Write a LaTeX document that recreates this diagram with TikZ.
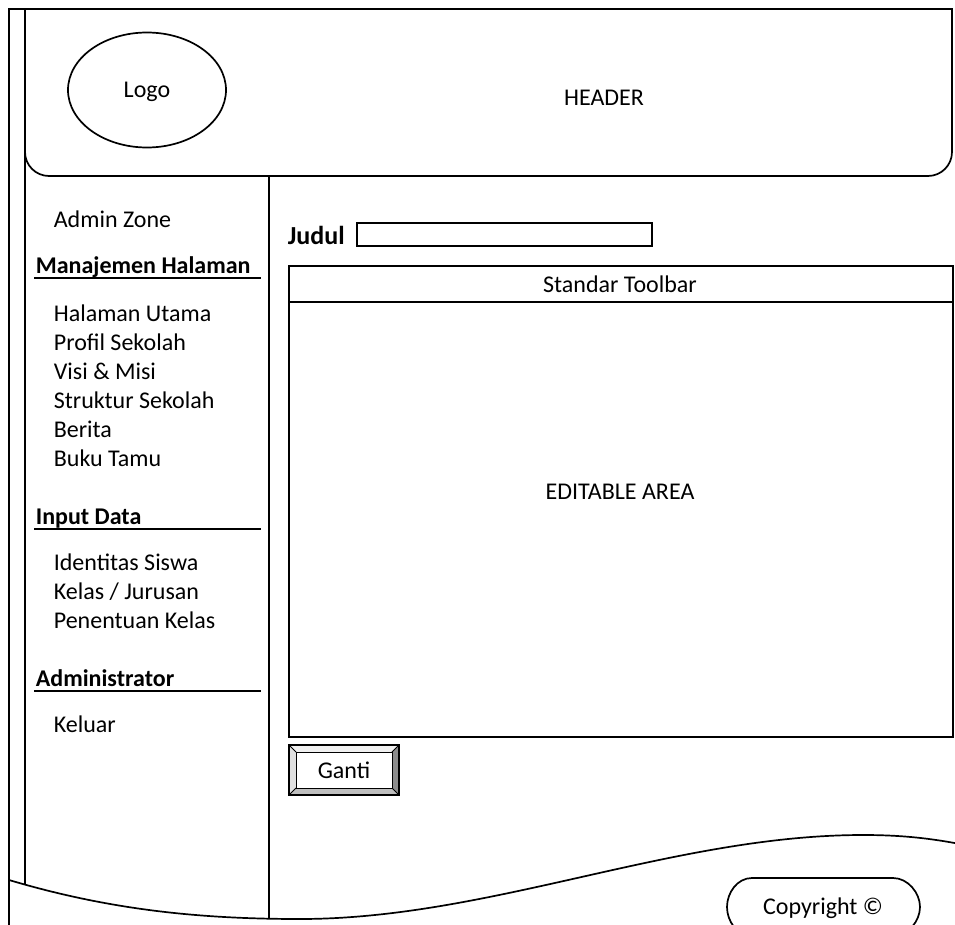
\documentclass[tikz,border=0pt]{standalone}
\usepackage{fontspec}
\setmainfont{Carlito}
\usetikzlibrary{shapes.geometric}
\begin{document}
\begin{tikzpicture}[x=1pt,y=-1pt,line width=1.7pt,
  lbl/.style={inner sep=0pt,font=\fontsize{24}{28}\selectfont},
  hd/.style={inner sep=0pt,font=\fontsize{24}{28}\selectfont\bfseries},
  bevel/.style={line width=1pt}]
\useasboundingbox (0,0) rectangle (955,925);
\clip (0,0) rectangle (955,925);

% outer frame and header
\draw (9,930) -- (9,9) -- (952,9) -- (952,150);
\draw[rounded corners=24pt] (952,140) -- (952,176) -- (25,176) -- (25,140);

% vertical lines clipped above the wave
\begin{scope}
  \clip (0,0) -- (0,880) -- (9,880) .. controls (110,910) and (200,919) .. (300,919)
        .. controls (490,919) and (673,835) .. (863,835)
        .. controls (900,835) and (930,838) .. (965,845) -- (965,0) -- cycle;
  \draw (25,9) -- (25,930);
  \draw (269,176) -- (269,930);
\end{scope}
% bottom wave
\draw (9,880) .. controls (110,910) and (200,919) .. (300,919)
      .. controls (490,919) and (673,835) .. (863,835)
      .. controls (900,835) and (930,838) .. (965,845);

% logo
\node[draw,ellipse,inner sep=0pt,minimum width=158pt,minimum height=115pt] (logo) at (147,90) {};
\node[lbl,anchor=base] (logotxt) at (147,98) {Logo};
\node[lbl,anchor=base] (header) at (604,106) {HEADER};

% sidebar
\node[lbl,anchor=base west] (admzone) at (53,228) {Admin Zone};
\node[hd,anchor=base west] (h1) at (35,273) {Manajemen Halaman};
\draw (34,278) -- (261,278);
\node[lbl,anchor=base west] (m1) at (53,321) {Halaman Utama};
\node[lbl,anchor=base west] (m2) at (53,350) {Profil Sekolah};
\node[lbl,anchor=base west] (m3) at (53,379) {Visi \& Misi};
\node[lbl,anchor=base west] (m4) at (53,408) {Struktur Sekolah};
\node[lbl,anchor=base west] (m5) at (53,437) {Berita};
\node[lbl,anchor=base west] (m6) at (53,466) {Buku Tamu};
\node[hd,anchor=base west] (h2) at (35,524) {Input Data};
\draw (34,529) -- (261,529);
\node[lbl,anchor=base west] (i1) at (53,570) {Identitas Siswa};
\node[lbl,anchor=base west] (i2) at (53,599) {Kelas / Jurusan};
\node[lbl,anchor=base west] (i3) at (53,628) {Penentuan Kelas};
\node[hd,anchor=base west] (h3) at (35,686) {Administrator};
\draw (34,691) -- (261,691);
\node[lbl,anchor=base west] (k1) at (53,732) {Keluar};

% content
\node[hd,anchor=base west,font=\fontsize{26}{30}\selectfont\bfseries] (judul) at (287,245) {Judul};
\draw (357,223) rectangle (652,246);
\draw (289,266) rectangle (953,737);
\draw (289,302) -- (953,302);
\node[lbl,anchor=base] (toolbar) at (620,292) {Standar Toolbar};
\node[lbl,anchor=base] (edit) at (620,499) {EDITABLE AREA};

% Ganti button
\fill[white!94!black] (289,745) -- (399,745) -- (392,752) -- (296,752) -- cycle;
\fill[white!88!black] (289,745) -- (296,752) -- (296,788) -- (289,795) -- cycle;
\fill[white!75!black] (289,795) -- (399,795) -- (392,788) -- (296,788) -- cycle;
\fill[white!55!black] (399,745) -- (399,795) -- (392,788) -- (392,752) -- cycle;
\draw[bevel] (289,745) -- (296,752) (399,745) -- (392,752) (289,795) -- (296,788) (399,795) -- (392,788);
\draw[bevel] (296,752) rectangle (392,788);
\draw[line width=1.5pt] (289,745) rectangle (399,795);
\node[lbl,anchor=base] (ganti) at (344,778) {Ganti};

% copyright
\draw (752,878) -- (893,878) .. controls (908,878) and (920,893) .. (920,907)
      .. controls (920,921) and (908,936) .. (893,936) -- (752,936)
      .. controls (737,936) and (727,921) .. (727,907)
      .. controls (727,893) and (737,878) .. (752,878) -- cycle;
\node[lbl,anchor=base] (copy) at (823,914) {Copyright ©};
\end{tikzpicture}
\end{document}
